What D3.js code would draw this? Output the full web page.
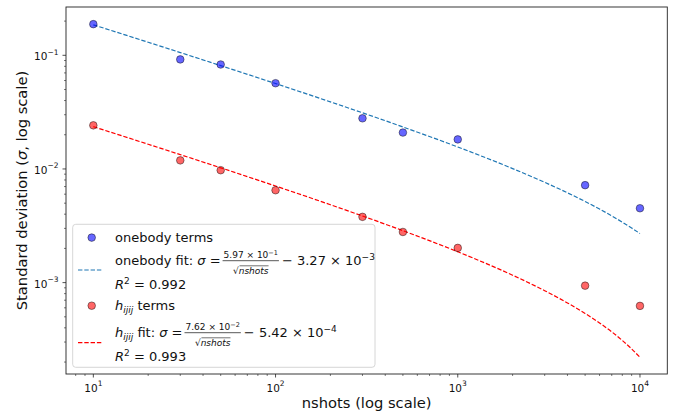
<!DOCTYPE html>
<html><head><meta charset="utf-8">
<script src="https://cdn.jsdelivr.net/npm/d3@7"></script>
<style>
body{margin:0;background:#fff;}
svg{display:block;font-family:"DejaVu Sans",sans-serif;}
</style></head>
<body><svg id="c" width="685" height="414"></svg>
<script>
// ---- data ----
const nshots = [10, 30, 50, 100, 300, 500, 1000, 5000, 10000];
const onebodySigma = [0.188, 0.092, 0.083, 0.0568, 0.0279, 0.0209, 0.0182, 0.0072, 0.00451];
const hijijSigma = [0.0242, 0.0119, 0.00975, 0.0065, 0.00379, 0.00279, 0.00202, 0.00094, 0.000624];
// fit curves sampled at these nshots values
const fitNshots = [10, 20, 30, 50, 100, 200, 300, 500, 1000, 2000, 3000, 4000, 5000, 6000, 7000, 8000, 9000, 10000];
const onebodyFit = [0.18552, 0.13022, 0.10573, 0.081158, 0.05643, 0.038944, 0.031198, 0.023429, 0.015609, 0.010079, 0.00763, 0.0061693, 0.0051728, 0.0044372, 0.0038655, 0.0034046, 0.003023, 0.0027];
const hijijFit = [0.023554, 0.016497, 0.01337, 0.010234, 0.007078, 0.0048462, 0.0038574, 0.0028657, 0.0018676, 0.0011619, 0.0008492, 0.0006628, 0.0005356, 0.00044174, 0.00036875, 0.00030994, 0.00026122, 0.00022];
const xDomain = [7.0795, 14125];
const yDomain = [1.570e-4, 0.2661];
const xMajorExp = [1, 2, 3, 4];
const yMajorExp = [-1, -2, -3];
const onebodyFitLabel = {num: ["5.97 × 10", "−1"], rest: ["− 3.27 × 10", "−3"], r2: "0.992"};
const hijijFitLabel = {num: ["7.62 × 10", "−2"], rest: ["− 5.42 × 10", "−4"], r2: "0.993"};

const svg = d3.select("#c");
const L = 66, R = 667.3, T = 7, B = 374;
const x = d3.scaleLog().domain(xDomain).range([L, R]);
const y = d3.scaleLog().domain(yDomain).range([B, T]);
const FONT = "DejaVu Sans";

// ticks
const isMajor = v => Math.abs(Math.log10(v) - Math.round(Math.log10(v))) < 1e-9;
const gx = svg.append("g");
x.ticks().forEach(v => {
  if (v < xDomain[0] || v > xDomain[1]) return;
  const px = x(v);
  gx.append("line").attr("x1", px).attr("x2", px).attr("y1", B).attr("y2", B + (isMajor(v) ? 3.5 : 2))
    .attr("stroke", "#222").attr("stroke-width", isMajor(v) ? 0.8 : 0.6);
});
const gy = svg.append("g");
y.ticks().forEach(v => {
  if (v < yDomain[0] || v > yDomain[1]) return;
  const py = y(v);
  gy.append("line").attr("y1", py).attr("y2", py).attr("x1", L).attr("x2", L - (isMajor(v) ? 3.5 : 2))
    .attr("stroke", "#222").attr("stroke-width", isMajor(v) ? 0.8 : 0.6);
});
xMajorExp.forEach(e => {
  const t = svg.append("text").attr("x", x(Math.pow(10, e))).attr("y", 391.5)
    .attr("text-anchor", "middle").attr("font-size", 10.5).attr("fill", "#111");
  t.append("tspan").text("10");
  t.append("tspan").attr("dy", -5.5).attr("font-size", 7.5).text(String(e));
});
yMajorExp.forEach(e => {
  const t = svg.append("text").attr("x", 58.5).attr("y", y(Math.pow(10, e)) + 5)
    .attr("text-anchor", "end").attr("font-size", 10.5).attr("fill", "#111");
  t.append("tspan").text("10");
  t.append("tspan").attr("dy", -5.5).attr("font-size", 7.5).text("−" + Math.abs(e));
});

// axis labels
svg.append("text").attr("x", (L + R) / 2).attr("y", 407.5).attr("text-anchor", "middle")
  .attr("font-size", 14.7).attr("fill", "#111").text("nshots (log scale)");
const yl = svg.append("text").attr("transform", `translate(27,${(T + B) / 2}) rotate(-90)`)
  .attr("text-anchor", "middle").attr("font-size", 14.7).attr("fill", "#111");
yl.append("tspan").text("Standard deviation (");
yl.append("tspan").attr("font-style", "italic").text("σ");
yl.append("tspan").text(", log scale)");

// fit lines
const line = d3.line().x(d => x(d[0])).y(d => y(d[1])).curve(d3.curveMonotoneX);
svg.append("path").datum(fitNshots.map((n, i) => [n, onebodyFit[i]])).attr("d", line)
  .attr("fill", "none").attr("stroke", "#1f77b4").attr("stroke-width", 1.2).attr("stroke-dasharray", "4.4,1.9");
svg.append("path").datum(fitNshots.map((n, i) => [n, hijijFit[i]])).attr("d", line)
  .attr("fill", "none").attr("stroke", "red").attr("stroke-width", 1.2).attr("stroke-dasharray", "4.4,1.9");

// scatter
function dots(vals, col) {
  svg.append("g").selectAll("circle").data(nshots.map((n, i) => [n, vals[i]])).join("circle")
    .attr("cx", d => x(d[0])).attr("cy", d => y(d[1])).attr("r", 3.8)
    .attr("fill", col).attr("fill-opacity", 0.6).attr("stroke", "black").attr("stroke-opacity", 0.55).attr("stroke-width", 0.8);
}
dots(onebodySigma, "blue");
dots(hijijSigma, "red");

// frame
svg.append("rect").attr("x", L).attr("y", T).attr("width", R - L).attr("height", B - T)
  .attr("fill", "none").attr("stroke", "#222").attr("stroke-width", 0.9);

// legend
const lg = svg.append("g");
lg.append("rect").attr("x", 72.7).attr("y", 224.3).attr("width", 302.3).attr("height", 143).attr("rx", 3)
  .attr("fill", "white").attr("fill-opacity", 0.8).attr("stroke", "#cccccc").attr("stroke-width", 0.8);
const TX = 115, FS = 13;
function legMarker(cy, col) {
  lg.append("circle").attr("cx", 91.7).attr("cy", cy).attr("r", 3.8).attr("fill", col).attr("fill-opacity", 0.6)
    .attr("stroke", "black").attr("stroke-opacity", 0.55).attr("stroke-width", 0.8);
}
function legLine(cy, col) {
  lg.append("line").attr("x1", 78).attr("x2", 103).attr("y1", cy).attr("y2", cy)
    .attr("stroke", col).attr("stroke-width", 1.2).attr("stroke-dasharray", "4.4,1.9");
}
function hLabel(t) {
  t.append("tspan").attr("font-style", "italic").text("h");
  t.append("tspan").attr("font-style", "italic").attr("font-size", 9).attr("dy", 3).text("ijij");
  t.append("tspan").attr("dy", -3).text(" ");
}
function fitRow(base, prefixFn, lab) {
  const t = lg.append("text").attr("x", TX).attr("y", base).attr("font-size", FS).attr("fill", "#111");
  prefixFn(t);
  t.append("tspan").text("fit: ");
  t.append("tspan").attr("font-style", "italic").text("σ");
  t.append("tspan").text(" =");
  const x0 = TX + t.node().getComputedTextLength() + 2;
  // numerator
  const num = lg.append("text").attr("y", base - 6.7).attr("font-size", 9).attr("fill", "#111");
  num.append("tspan").text(lab.num[0]);
  num.append("tspan").attr("dy", -3.5).attr("font-size", 6.5).text(lab.num[1]);
  const nw = num.node().getComputedTextLength();
  const den = lg.append("text").attr("y", base + 8.5).attr("font-size", 9).attr("fill", "#111");
  den.append("tspan").text("√");
  den.append("tspan").attr("font-style", "italic").text("nshots");
  const dw = den.node().getComputedTextLength();
  const fw = Math.max(nw, dw) + 2;
  num.attr("x", x0 + (fw - nw) / 2);
  den.attr("x", x0 + (fw - dw) / 2);
  lg.append("line").attr("x1", x0).attr("x2", x0 + fw).attr("y1", base - 4.3).attr("y2", base - 4.3)
    .attr("stroke", "#111").attr("stroke-width", 0.7);
  // overline of sqrt
  const sqw = 9 * 0.838;
  lg.append("line").attr("x1", x0 + (fw - dw) / 2 + sqw - 1).attr("x2", x0 + (fw - dw) / 2 + dw)
    .attr("y1", base + 0.8).attr("y2", base + 0.8).attr("stroke", "#111").attr("stroke-width", 0.6);
  const r = lg.append("text").attr("x", x0 + fw + 3).attr("y", base).attr("font-size", FS).attr("fill", "#111");
  r.append("tspan").text(lab.rest[0]);
  r.append("tspan").attr("dy", -5).attr("font-size", 9).text(lab.rest[1]);
  const r2 = lg.append("text").attr("x", TX).attr("y", base + 23.5).attr("font-size", FS).attr("fill", "#111");
  r2.append("tspan").attr("font-style", "italic").text("R");
  r2.append("tspan").attr("dy", -5).attr("font-size", 9).text("2");
  r2.append("tspan").attr("dy", 5).text(" = " + lab.r2);
}
legMarker(237.6, "blue");
lg.append("text").attr("x", TX).attr("y", 241.6).attr("font-size", FS).attr("fill", "#111").text("onebody terms");
legLine(270, "#1f77b4");
fitRow(265, t => t.append("tspan").text("onebody "), onebodyFitLabel);
legMarker(305.7, "red");
const t3 = lg.append("text").attr("x", TX).attr("y", 310).attr("font-size", FS).attr("fill", "#111");
hLabel(t3); t3.append("tspan").text("terms");
legLine(342.7, "red");
fitRow(337, hLabel, hijijFitLabel);
</script></body></html>
